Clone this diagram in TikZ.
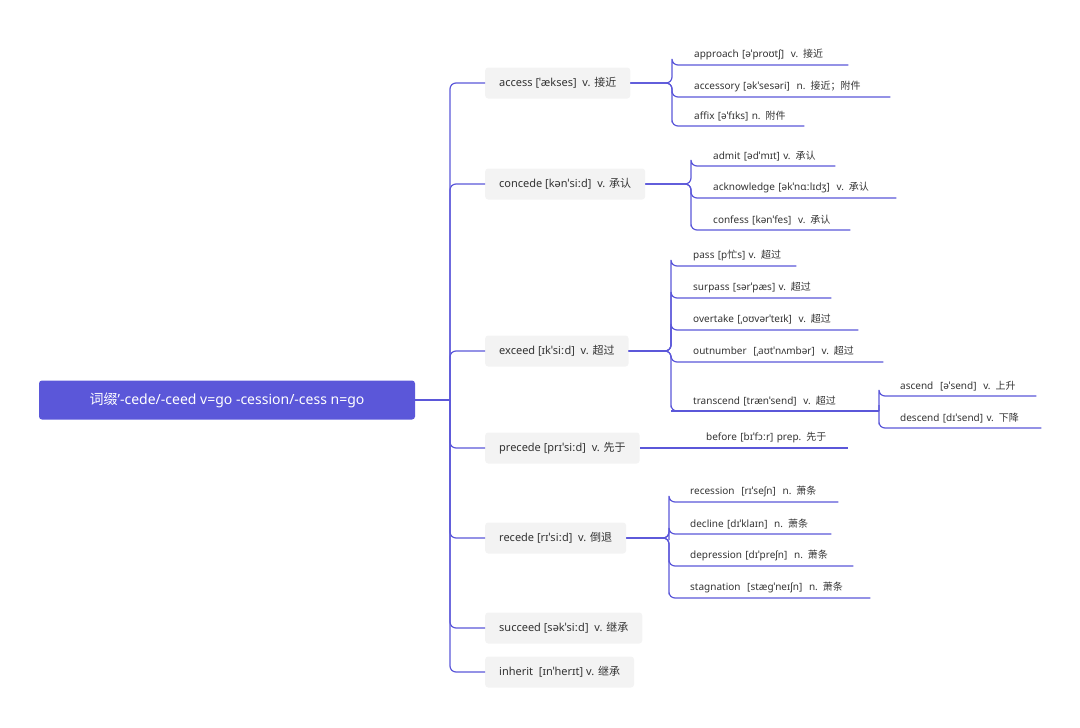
\documentclass[tikz,border=0pt]{standalone}
\usepackage{fontspec}
\setmainfont{Noto Sans}
\newfontfamily\cjk{Noto Sans CJK SC}
\newcommand{\C}[1]{{\cjk #1}}
\begin{document}
\begin{tikzpicture}[x=1pt,y=-1pt,
  ln/.style={draw=lc,line width=1.2pt,rounded corners=6pt},
  mid/.style={fill=boxc,rounded corners=3pt,anchor=west,minimum height=31pt,inner xsep=14pt,font=\fontsize{11}{13}\selectfont,text=black!80},
  leaf/.style={anchor=south west,inner xsep=0pt,inner ysep=5pt,align=left,font=\fontsize{10}{12}\selectfont,text=black!80},
]
\definecolor{lc}{HTML}{5B57D9}
\definecolor{boxc}{HTML}{F3F3F3}
\useasboundingbox (0,0) rectangle (1080,728);
\node[fill=lc,rounded corners=3pt,minimum width=376pt,minimum height=39pt,text=white,font=\fontsize{14}{16}\selectfont] (root) at (227,400) {\C{词缀}'-cede/-ceed v=go -cession/-cess n=go};
\coordinate (tr) at (450,400);
\node[mid] (access) at (485,83) {access [ˈækses]\ \ v. \C{接近}};
\node[mid] (concede) at (485,184) {concede [kənˈsiːd]\ \ v. \C{承认}};
\node[mid] (exceed) at (485,351) {exceed [ɪkˈsiːd]\ \ v. \C{超过}};
\node[mid] (precede) at (485,448) {precede [prɪˈsiːd]\ \ v. \C{先于}};
\node[mid] (recede) at (485,538) {recede [rɪˈsiːd]\ \ v. \C{倒退}};
\node[mid] (succeed) at (485,628) {succeed [səkˈsiːd]\ \ v. \C{继承}};
\node[mid] (inherit) at (485,672) {inherit\ \ [ɪnˈherɪt] v. \C{继承}};
\draw[ln,rounded corners=0pt] (root.east) -- (tr);
\foreach \n in {access,concede,exceed,precede,recede,succeed,inherit}
  \draw[ln] (tr) |- (\n.west);
% access
\node[leaf,text width=176pt] (ap) at (672,65) {\hspace*{22pt}approach [əˈproʊtʃ]\ \ v. \C{接近}};
\node[leaf,text width=218pt] (acs) at (672,97) {\hspace*{22pt}accessory [əkˈsesəri]\ \ n. \C{接近；附件}};
\node[leaf,text width=132pt] (af) at (672,126) {\hspace*{22pt}affix [əˈfɪks] n. \C{附件}};
% concede
\node[leaf,text width=144pt] (ad) at (691,166) {\hspace*{22pt}admit [ədˈmɪt] v. \C{承认}};
\node[leaf,text width=205pt] (ack) at (691,198) {\hspace*{22pt}acknowledge [əkˈnɑːlɪdʒ]\ \ v. \C{承认}};
\node[leaf,text width=159pt] (cf) at (691,230) {\hspace*{22pt}confess [kənˈfes]\ \ v. \C{承认}};
% exceed
\node[leaf,text width=125pt] (ps) at (671,266) {\hspace*{22pt}pass [p\C{忙}s] v. \C{超过}};
\node[leaf,text width=160pt] (sp) at (671,298) {\hspace*{22pt}surpass [sərˈpæs] v. \C{超过}};
\node[leaf,text width=187pt] (ot) at (671,330) {\hspace*{22pt}overtake [ˌoʊvərˈteɪk]\ \ v. \C{超过}};
\node[leaf,text width=212pt] (on) at (671,362) {\hspace*{22pt}outnumber\ \ [ˌaʊtˈnʌmbər]\ \ v. \C{超过}};
\node[leaf,text width=206pt] (tc) at (671,411) {\hspace*{22pt}transcend [trænˈsend]\ \ v. \C{超过}};
\node[leaf,text width=157pt] (as) at (879,396) {\hspace*{21pt}ascend\ \ [əˈsend]\ \ v. \C{上升}};
\node[leaf,text width=162pt] (ds) at (879,428) {\hspace*{21pt}descend [dɪˈsend] v. \C{下降}};
% precede
\node[leaf,text width=182pt] (bf) at (666,448) {\hspace*{40pt}before [bɪˈfɔːr] prep. \C{先于}};
% recede
\node[leaf,text width=169pt] (rc) at (669,502) {\hspace*{21pt}recession\ \ [rɪˈseʃn]\ \ n. \C{萧条}};
\node[leaf,text width=162pt] (dc) at (669,534) {\hspace*{21pt}decline [dɪˈklaɪn]\ \ n. \C{萧条}};
\node[leaf,text width=184pt] (dp) at (669,566) {\hspace*{21pt}depression [dɪˈpreʃn]\ \ n. \C{萧条}};
\node[leaf,text width=201pt] (sg) at (669,598) {\hspace*{21pt}stagnation\ \ [stægˈneɪʃn]\ \ n. \C{萧条}};
% connectors
\foreach \p/\x/\l in {access/672/{ap,acs,af},concede/691/{ad,ack,cf},exceed/671/{ps,sp,ot,on,tc},recede/669/{rc,dc,dp,sg}}{
  \foreach \c in \l
    \draw[ln] (\p.east) -- (\x,0|-\p.east) |- (\c.south west) -- (\c.south east);
}
\draw[ln] (tc.south east) ++(-0.1,0) coordinate (tce);
\draw[ln] (tc.south west) -- ++(208,0) coordinate (j);
\foreach \c in {as,ds}
  \draw[ln] (j) -- (879,0|-j) |- (\c.south west) -- (\c.south east);
\draw[ln] (precede.east) -- (bf.south west) -- (bf.south east);
\end{tikzpicture}
\end{document}
